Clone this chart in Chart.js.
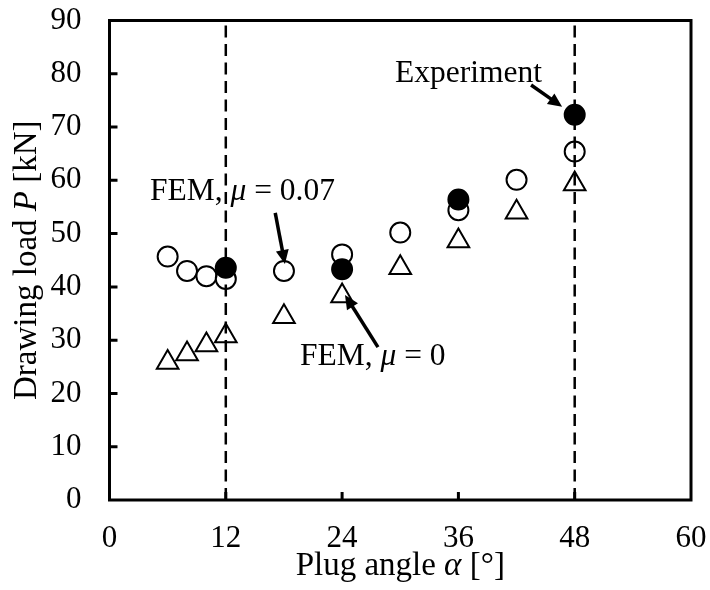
<!DOCTYPE html>
<html>
<head>
<meta charset="utf-8">
<title>Drawing load vs plug angle</title>
<script src="https://cdn.jsdelivr.net/npm/chart.js@4/dist/chart.umd.min.js"></script>
<style>
  html, body { margin: 0; padding: 0; background: #ffffff; }
  canvas { display: block; }
</style>
</head>
<body>
<canvas id="chart" width="710" height="590"></canvas>
<script>
// Plug angle [deg] for the FEM runs
const angles = [6, 8, 10, 12, 18, 24, 30, 36, 42, 48];
// FEM, friction coefficient 0.07 [kN]
const femMu007 = [45.7, 43.0, 42.0, 41.5, 43.0, 46.1, 50.2, 54.4, 60.1, 65.4];
// FEM, frictionless [kN]
const femMu0 = [25.8, 27.4, 29.1, 30.8, 34.4, 38.3, 43.6, 48.6, 54.0, 59.3];
// Experimental runs
const expAngles = [12, 24, 36, 48];
const experiment = [43.6, 43.3, 56.4, 72.3];
// Vertical guide lines
const guideAngles = [12, 48];
// Axis ticks
const xTicks = [0, 12, 24, 36, 48, 60];
const yTicks = [0, 10, 20, 30, 40, 50, 60, 70, 80, 90];

// Callouts: text anchor (left, baseline) and arrow tail -> tip, in data units
const callouts = [
  { parts: [['FEM, ', false], ['\u03bc', true], [' = 0.07', false]], at: [4.18, 56.3], tail: [17.1, 53.9], tip: [18.1, 44.3] },
  { parts: [['FEM, ', false], ['\u03bc', true], [' = 0', false]], at: [19.65, 25.3], tail: [27.7, 28.7], tip: [24.3, 38.5] },
  { parts: [['Experiment', false]], at: [29.46, 78.45], tail: [43.5, 77.9], tip: [46.7, 73.8] }
];

const SERIF = '"Liberation Serif", "Times New Roman", Times, serif';
const NOTE_SIZE = 31.5;
const TITLE_SIZE = 33;

const toPoints = (xs, ys) => xs.map((x, i) => ({ x: x, y: ys[i] }));

const guideSets = guideAngles.map(a => ({
  type: 'line',
  data: [{ x: a, y: yTicks[0] }, { x: a, y: yTicks[yTicks.length - 1] }],
  borderColor: '#000',
  borderWidth: 2.5,
  borderDash: [12, 6.5],
  pointRadius: 0,
  fill: false,
  order: 1
}));

function drawMixed(ctx, parts, size, x, y) {
  let cx = x;
  parts.forEach(([txt, italic]) => {
    ctx.font = (italic ? 'italic ' : '') + size + 'px ' + SERIF;
    ctx.fillText(txt, cx, y);
    cx += ctx.measureText(txt).width;
  });
}
function mixedWidth(ctx, parts, size) {
  let w = 0;
  parts.forEach(([txt, italic]) => {
    ctx.font = (italic ? 'italic ' : '') + size + 'px ' + SERIF;
    w += ctx.measureText(txt).width;
  });
  return w;
}

function drawArrow(ctx, x1, y1, x2, y2) {
  const ang = Math.atan2(y2 - y1, x2 - x1);
  const head = 14, half = 6.5;
  const bx = x2 - head * Math.cos(ang), by = y2 - head * Math.sin(ang);
  ctx.lineWidth = 3.5;
  ctx.beginPath();
  ctx.moveTo(x1, y1);
  ctx.lineTo(bx + 2 * Math.cos(ang), by + 2 * Math.sin(ang));
  ctx.stroke();
  ctx.beginPath();
  ctx.moveTo(x2, y2);
  ctx.lineTo(bx + half * Math.sin(ang), by - half * Math.cos(ang));
  ctx.lineTo(bx - half * Math.sin(ang), by + half * Math.cos(ang));
  ctx.closePath();
  ctx.fill();
}

const framePlugin = {
  id: 'frameAndNotes',
  afterDatasetsDraw(chart) {
    const { ctx, chartArea: a, scales: { x, y } } = chart;
    ctx.save();
    ctx.strokeStyle = '#000';
    ctx.fillStyle = '#000';
    ctx.lineCap = 'butt';

    // callouts
    ctx.textBaseline = 'alphabetic';
    ctx.textAlign = 'left';
    callouts.forEach(c => {
      drawMixed(ctx, c.parts, NOTE_SIZE, x.getPixelForValue(c.at[0]), y.getPixelForValue(c.at[1]));
      drawArrow(ctx,
        x.getPixelForValue(c.tail[0]), y.getPixelForValue(c.tail[1]),
        x.getPixelForValue(c.tip[0]), y.getPixelForValue(c.tip[1]));
    });

    // plot frame
    ctx.lineWidth = 3;
    ctx.strokeRect(a.left, a.top, a.right - a.left, a.bottom - a.top);

    // inward tick marks
    ctx.lineWidth = 3;
    ctx.beginPath();
    yTicks.slice(1, -1).forEach(v => {
      const py = y.getPixelForValue(v);
      ctx.moveTo(a.left, py);
      ctx.lineTo(a.left + 8, py);
    });
    xTicks.slice(1, -1).forEach(v => {
      const px = x.getPixelForValue(v);
      ctx.moveTo(px, a.bottom);
      ctx.lineTo(px, a.bottom - 8);
    });
    ctx.stroke();

    // axis titles
    const xt = [['Plug angle ', false], ['\u03b1', true], [' [\u00b0]', false]];
    const xw = mixedWidth(ctx, xt, TITLE_SIZE);
    drawMixed(ctx, xt, TITLE_SIZE, (a.left + a.right) / 2 - xw / 2, 575);

    const yt = [['Drawing load ', false], ['P', true], [' [kN]', false]];
    const yw = mixedWidth(ctx, yt, TITLE_SIZE);
    ctx.translate(36, (a.top + a.bottom) / 2);
    ctx.rotate(-Math.PI / 2);
    drawMixed(ctx, yt, TITLE_SIZE, -yw / 2, 0);
    ctx.restore();
  }
};

new Chart(document.getElementById('chart'), {
  type: 'scatter',
  data: {
    datasets: [
      ...guideSets,
      {
        label: 'Experiment',
        data: toPoints(expAngles, experiment),
        pointStyle: 'circle',
        pointRadius: 10,
        pointBackgroundColor: '#000',
        pointBorderColor: '#000',
        pointBorderWidth: 2,
        order: 2
      },
      {
        label: 'FEM, \u03bc = 0.07',
        data: toPoints(angles, femMu007),
        pointStyle: 'circle',
        pointRadius: 10,
        pointBackgroundColor: '#fff',
        pointBorderColor: '#000',
        pointBorderWidth: 2,
        order: 3
      },
      {
        label: 'FEM, \u03bc = 0',
        data: toPoints(angles, femMu0),
        pointStyle: 'triangle',
        pointRadius: 12.5,
        pointBackgroundColor: '#fff',
        pointBorderColor: '#000',
        pointBorderWidth: 2,
        order: 4
      }
    ]
  },
  options: {
    responsive: false,
    devicePixelRatio: 1,
    animation: false,
    layout: { padding: { top: 20.5, right: 19, bottom: 0, left: 0 } },
    plugins: { legend: { display: false }, tooltip: { enabled: false } },
    scales: {
      x: {
        type: 'linear',
        min: xTicks[0],
        max: xTicks[xTicks.length - 1],
        afterBuildTicks: s => { s.ticks = xTicks.map(v => ({ value: v })); },
        afterFit: s => { s.height = 90; s.paddingLeft = 0; s.paddingRight = 0; },
        grid: { display: false, drawTicks: false },
        border: { display: false },
        ticks: { color: '#000', font: { family: SERIF, size: 31 }, padding: 20, maxRotation: 0 }
      },
      y: {
        type: 'linear',
        min: yTicks[0],
        max: yTicks[yTicks.length - 1],
        afterBuildTicks: s => { s.ticks = yTicks.map(v => ({ value: v })); },
        afterFit: s => { s.width = 109.5; s.paddingTop = 0; s.paddingBottom = 0; },
        grid: { display: false, drawTicks: false },
        border: { display: false },
        ticks: { color: '#000', font: { family: SERIF, size: 31 }, padding: 28 }
      }
    }
  },
  plugins: [framePlugin]
});
</script>
</body>
</html>
